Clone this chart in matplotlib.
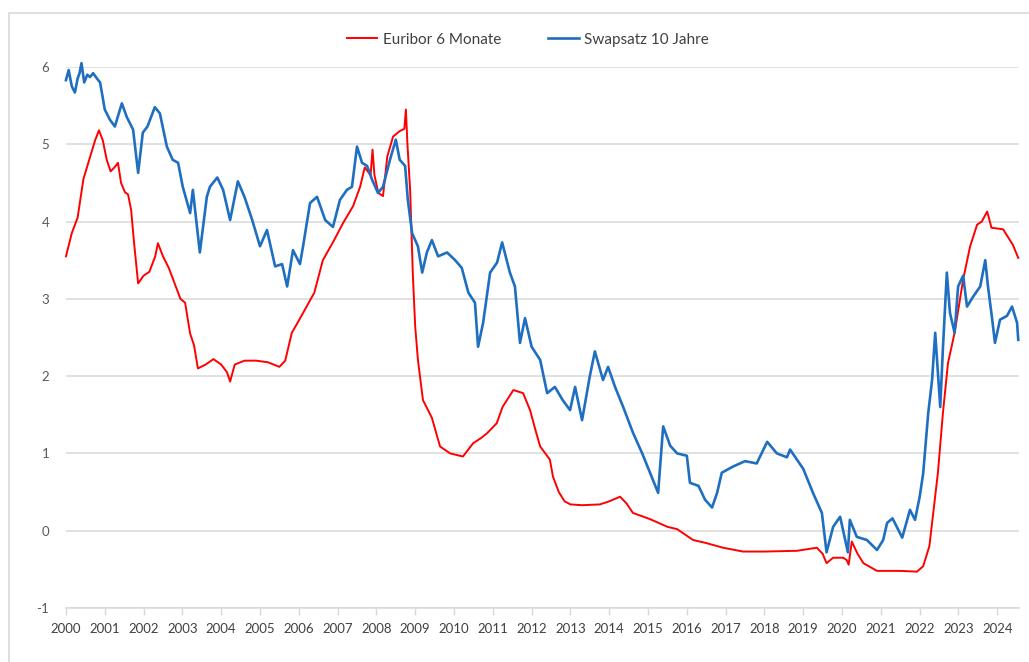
import matplotlib
matplotlib.use('Agg')
import matplotlib.pyplot as plt
from matplotlib.patches import Rectangle

plt.rcParams['font.family'] = ['Lato', 'DejaVu Sans']

# Euribor 6 Monate (Dezimaljahr, Prozent)
euribor_t = [2000.0, 2000.15, 2000.3, 2000.45, 2000.6, 2000.75, 2000.85, 2000.95, 2001.05, 2001.15,
             2001.25, 2001.34, 2001.42, 2001.52, 2001.6, 2001.68, 2001.75, 2001.86, 2002.0, 2002.15,
             2002.3, 2002.37, 2002.5, 2002.65, 2002.8, 2002.95, 2003.07, 2003.2, 2003.3, 2003.4,
             2003.6, 2003.8, 2004.0, 2004.15, 2004.23, 2004.35, 2004.6, 2004.9, 2005.2, 2005.5,
             2005.65, 2005.82, 2005.98, 2006.2, 2006.4, 2006.62, 2006.9, 2007.14, 2007.4, 2007.58,
             2007.7, 2007.85, 2007.9, 2007.95, 2008.05, 2008.17, 2008.28, 2008.43, 2008.6, 2008.72,
             2008.76, 2008.8, 2008.87, 2008.94, 2009.0, 2009.07, 2009.2, 2009.43, 2009.64, 2009.9,
             2010.23, 2010.49, 2010.7, 2010.85, 2011.1, 2011.25, 2011.53, 2011.78, 2011.96, 2012.1,
             2012.22, 2012.47, 2012.55, 2012.7, 2012.85, 2013.0, 2013.3, 2013.76, 2014.0, 2014.28,
             2014.45, 2014.61, 2015.05, 2015.5, 2015.75, 2016.16, 2016.5, 2016.93, 2017.45, 2018.0,
             2018.84, 2019.35, 2019.5, 2019.6, 2019.77, 2020.03, 2020.12, 2020.17, 2020.25, 2020.4,
             2020.55, 2020.9, 2021.5, 2021.93, 2022.09, 2022.25, 2022.35, 2022.47, 2022.6, 2022.73,
             2022.9, 2023.12, 2023.3, 2023.48, 2023.6, 2023.74, 2023.85, 2024.15, 2024.4, 2024.54]
euribor_v = [3.55, 3.85, 4.05, 4.55, 4.8, 5.05, 5.18, 5.05, 4.8, 4.65,
             4.7, 4.76, 4.5, 4.38, 4.35, 4.15, 3.75, 3.2, 3.3, 3.35,
             3.55, 3.72, 3.55, 3.4, 3.2, 3.0, 2.95, 2.55, 2.4, 2.1,
             2.15, 2.22, 2.15, 2.05, 1.93, 2.15, 2.2, 2.2, 2.18, 2.12,
             2.2, 2.56, 2.7, 2.9, 3.08, 3.5, 3.75, 3.98, 4.2, 4.45,
             4.7, 4.6, 4.93, 4.6, 4.37, 4.33, 4.84, 5.1, 5.17, 5.2,
             5.45, 5.0, 4.4, 3.3, 2.64, 2.21, 1.69, 1.46, 1.09, 1.0,
             0.96, 1.13, 1.2, 1.26, 1.39, 1.6, 1.82, 1.78, 1.56, 1.3,
             1.09, 0.92, 0.7, 0.5, 0.38, 0.34, 0.33, 0.34, 0.38, 0.44,
             0.35, 0.23, 0.15, 0.05, 0.02, -0.12, -0.16, -0.22, -0.27, -0.27,
             -0.26, -0.22, -0.3, -0.42, -0.35, -0.35, -0.38, -0.44, -0.14, -0.3,
             -0.42, -0.52, -0.52, -0.53, -0.46, -0.2, 0.23, 0.75, 1.53, 2.17,
             2.56, 3.25, 3.68, 3.96, 4.0, 4.13, 3.92, 3.9, 3.7, 3.53]

# Swapsatz 10 Jahre
swap_t = [2000.0, 2000.07, 2000.15, 2000.23, 2000.3, 2000.35, 2000.4, 2000.47, 2000.55, 2000.62,
          2000.7, 2000.8, 2000.88, 2001.0, 2001.13, 2001.26, 2001.44, 2001.57, 2001.73, 2001.86,
          2001.98, 2002.1, 2002.29, 2002.42, 2002.6, 2002.75, 2002.89, 2003.01, 2003.2, 2003.27,
          2003.45, 2003.63, 2003.71, 2003.9, 2004.05, 2004.23, 2004.43, 2004.6, 2004.8, 2005.0,
          2005.18, 2005.39, 2005.57, 2005.7, 2005.85, 2006.03, 2006.11, 2006.29, 2006.47, 2006.68,
          2006.88, 2007.06, 2007.24, 2007.37, 2007.5, 2007.63, 2007.76, 2007.89, 2008.04, 2008.17,
          2008.35, 2008.5, 2008.6, 2008.74, 2008.81, 2008.92, 2009.07, 2009.18, 2009.3, 2009.43,
          2009.59, 2009.82, 2010.03, 2010.2, 2010.37, 2010.54, 2010.62, 2010.75, 2010.93, 2011.11,
          2011.24, 2011.44, 2011.57, 2011.7, 2011.83, 2012.0, 2012.22, 2012.4, 2012.6, 2012.8,
          2012.99, 2013.12, 2013.3, 2013.5, 2013.63, 2013.84, 2013.97, 2014.15, 2014.36, 2014.61,
          2014.85, 2015.05, 2015.26, 2015.39, 2015.57, 2015.75, 2016.0, 2016.08, 2016.3, 2016.47,
          2016.65, 2016.78, 2016.9, 2017.19, 2017.5, 2017.8, 2018.07, 2018.32, 2018.58, 2018.66,
          2019.0, 2019.25, 2019.48, 2019.6, 2019.77, 2019.95, 2020.15, 2020.2, 2020.38, 2020.64,
          2020.9, 2021.06, 2021.16, 2021.3, 2021.55, 2021.75, 2021.88, 2022.0, 2022.09, 2022.22,
          2022.32, 2022.4, 2022.53, 2022.6, 2022.7, 2022.78, 2022.9, 2022.99, 2023.12, 2023.22,
          2023.38, 2023.56, 2023.69, 2023.76, 2023.87, 2023.94, 2024.07, 2024.25, 2024.38, 2024.51,
          2024.54]
swap_v = [5.83, 5.96, 5.75, 5.67, 5.85, 5.92, 6.05, 5.8, 5.9, 5.87,
          5.92, 5.85, 5.8, 5.45, 5.32, 5.23, 5.53, 5.35, 5.19, 4.63,
          5.15, 5.23, 5.48, 5.4, 4.97, 4.8, 4.76, 4.45, 4.11, 4.41,
          3.6, 4.32, 4.45, 4.57, 4.41, 4.02, 4.52, 4.32, 4.02, 3.68,
          3.89, 3.42, 3.45, 3.16, 3.63, 3.45, 3.68, 4.24, 4.32, 4.02,
          3.93, 4.28, 4.41, 4.45, 4.97, 4.76, 4.72, 4.54, 4.37, 4.45,
          4.8, 5.06, 4.8, 4.72, 4.28, 3.85, 3.68, 3.34, 3.6, 3.76,
          3.55, 3.6, 3.5, 3.4, 3.08, 2.95, 2.38, 2.69, 3.34, 3.47,
          3.73, 3.34, 3.16, 2.43, 2.75, 2.38, 2.21, 1.78, 1.86, 1.69,
          1.56, 1.86, 1.43, 2.0, 2.32, 1.95, 2.12, 1.86, 1.6, 1.27,
          1.0, 0.75, 0.49, 1.35, 1.1, 1.0, 0.97, 0.62, 0.58, 0.4,
          0.3, 0.49, 0.75, 0.83, 0.9, 0.87, 1.15, 1.0, 0.95, 1.05,
          0.8, 0.49, 0.23, -0.28, 0.05, 0.18, -0.28, 0.14, -0.08, -0.12,
          -0.25, -0.12, 0.1, 0.16, -0.09, 0.27, 0.14, 0.44, 0.74, 1.52,
          1.95, 2.56, 1.6, 2.37, 3.34, 2.82, 2.56, 3.16, 3.3, 2.9,
          3.03, 3.16, 3.5, 3.16, 2.73, 2.43, 2.73, 2.78, 2.9, 2.69,
          2.47]

years = list(range(2000, 2025))
y_ticks = [-1, 0, 1, 2, 3, 4, 5, 6]

fig = plt.figure(figsize=(10.29, 6.62), dpi=100)
ax = fig.add_axes([0.0641, 0.0816, 0.9262, 0.8172])

# Rahmen des Diagrammbereichs
fig.patches.append(Rectangle((0.0087, -0.05), 1.1, 1.03, transform=fig.transFigure,
                             fill=False, edgecolor='#d9d9d9', lw=1.2))

ax.plot(euribor_t, euribor_v, color='#ff0000', lw=1.4, label='Euribor 6 Monate', clip_on=False)
ax.plot(swap_t, swap_v, color='#1f6fc1', lw=1.9, label='Swapsatz 10 Jahre', clip_on=False)

ax.set_xlim(2000, 2024.56)
ax.set_ylim(-1, 6)
ax.set_yticks(y_ticks)
ax.set_yticklabels([str(v) for v in y_ticks])
ax.set_xticks(years)
ax.set_xticklabels([str(y) for y in years])
ax.grid(axis='y', color='#d9d9d9', lw=1.1)
ax.set_axisbelow(True)

for s in ['top', 'right', 'left']:
    ax.spines[s].set_visible(False)
ax.spines['bottom'].set_color('#d9d9d9')
ax.spines['bottom'].set_linewidth(1.1)

ax.tick_params(axis='y', length=0, pad=12, labelsize=9.5, labelcolor='#595959')
ax.tick_params(axis='x', length=5, color='#d9d9d9', width=1, pad=6, labelsize=9.5,
               labelcolor='#404040')

leg = fig.legend(loc='center', bbox_to_anchor=(0.513, 0.94), ncol=2, frameon=False,
                 fontsize=11, handlelength=2.0, columnspacing=3.1, handletextpad=0.35)
for t in leg.get_texts():
    t.set_color('#404040')

fig.savefig('out.png', dpi=100)
